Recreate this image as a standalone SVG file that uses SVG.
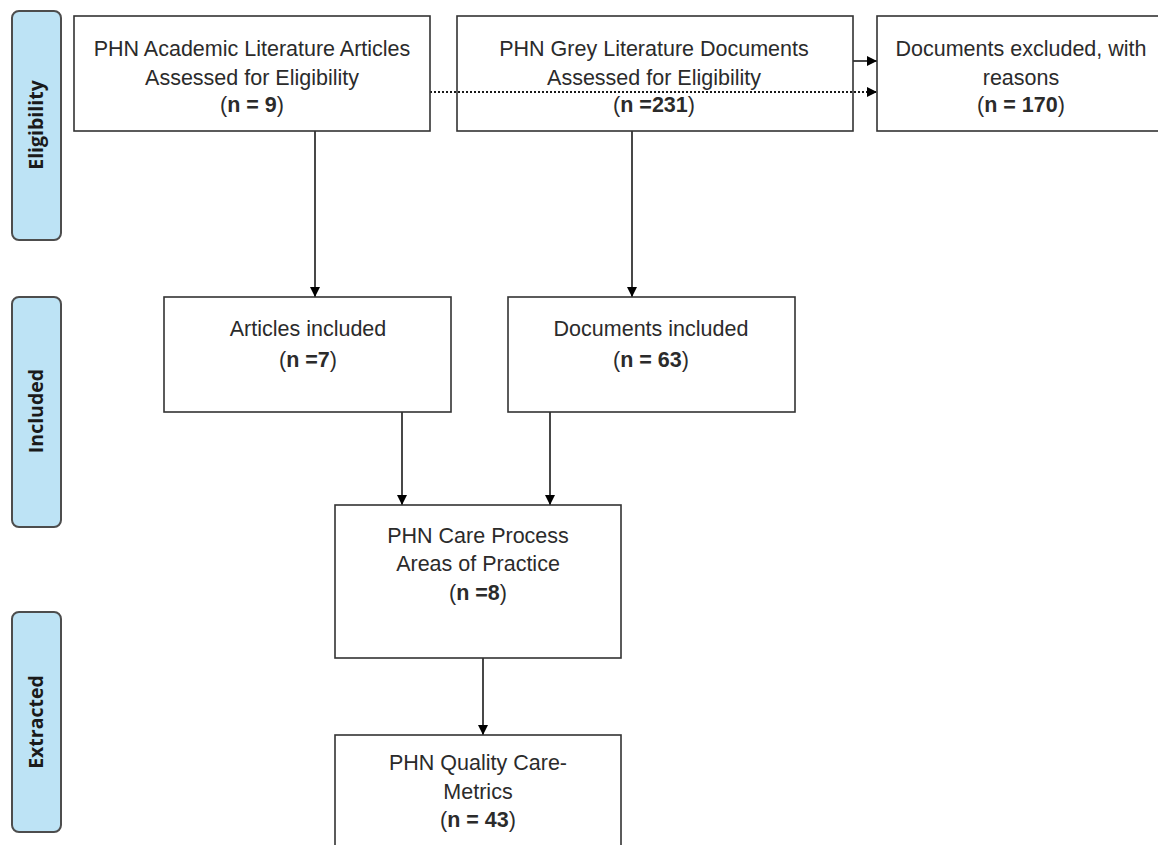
<svg xmlns="http://www.w3.org/2000/svg" width="1158" height="845" viewBox="0 0 1158 845">
  <style>
    .stage { fill: #bde3f5; stroke: #4d4d4d; stroke-width: 2; }
    .stage-text { font-family: "Open Sans", "Liberation Sans", sans-serif; font-size: 19.5px; font-weight: bold; fill: #1a1a1a; text-anchor: middle; }
    .box { fill: #ffffff; stroke: #333333; stroke-width: 1.6; }
    .label { font-family: "Liberation Sans", Arial, sans-serif; font-size: 21.5px; fill: #2b2b2b; text-anchor: middle; }
    .bold { font-weight: bold; }
    .conn { fill: none; stroke: #1a1a1a; stroke-width: 1.6; }
    .dotted { stroke-dasharray: 2 2; stroke-width: 2.2; }
  </style>
  <defs>
    <marker id="arrow" viewBox="0 0 10 10" refX="10" refY="5" markerWidth="10" markerHeight="10" markerUnits="userSpaceOnUse" orient="auto">
      <path d="M0,0 L10,5 L0,10 Z" fill="#000000"/>
    </marker>
  </defs>

  <rect width="1158" height="845" fill="#ffffff"/>

  <!-- stage labels -->
  <g id="stage-eligibility">
    <rect class="stage" x="12" y="11" width="49" height="229" rx="7"/>
    <text class="stage-text" transform="translate(43,125) rotate(-90)">Eligibility</text>
  </g>
  <g id="stage-included">
    <rect class="stage" x="12" y="297" width="49" height="230" rx="7"/>
    <text class="stage-text" transform="translate(43,411) rotate(-90)">Included</text>
  </g>
  <g id="stage-extracted">
    <rect class="stage" x="12" y="612" width="49" height="220" rx="7"/>
    <text class="stage-text" transform="translate(43,722) rotate(-90)">Extracted</text>
  </g>

  <!-- connectors -->
  <g id="connectors">
    <line class="conn" x1="853" y1="61" x2="877" y2="61" marker-end="url(#arrow)"/>
    <line class="conn dotted" x1="430" y1="92" x2="877" y2="92" marker-end="url(#arrow)"/>
    <line class="conn" x1="315" y1="131" x2="315" y2="297" marker-end="url(#arrow)"/>
    <line class="conn" x1="632" y1="131" x2="632" y2="297" marker-end="url(#arrow)"/>
    <line class="conn" x1="402" y1="412" x2="402" y2="505" marker-end="url(#arrow)"/>
    <line class="conn" x1="550" y1="412" x2="550" y2="505" marker-end="url(#arrow)"/>
    <line class="conn" x1="483" y1="658" x2="483" y2="735" marker-end="url(#arrow)"/>
  </g>

  <!-- nodes -->
  <g id="academic-assessed">
    <rect class="box" x="74" y="16" width="356" height="115"/>
    <text class="label" x="252" y="56">PHN Academic Literature Articles</text>
    <text class="label" x="252" y="85">Assessed for Eligibility</text>
    <text class="label" x="252" y="112">(<tspan class="bold">n = 9</tspan>)</text>
  </g>
  <g id="grey-assessed">
    <rect class="box" x="457" y="16" width="396" height="115" fill-opacity="0"/>
    <text class="label" x="654" y="56">PHN Grey Literature Documents</text>
    <text class="label" x="654" y="85">Assessed for Eligibility</text>
    <text class="label" x="654" y="112">(<tspan class="bold">n =231</tspan>)</text>
  </g>
  <g id="documents-excluded">
    <rect class="box" x="877" y="16" width="290" height="115"/>
    <text class="label" x="1021" y="56">Documents excluded, with</text>
    <text class="label" x="1021" y="85">reasons</text>
    <text class="label" x="1021" y="112">(<tspan class="bold">n = 170</tspan>)</text>
  </g>
  <g id="articles-included">
    <rect class="box" x="164" y="297" width="287" height="115"/>
    <text class="label" x="308" y="336">Articles included</text>
    <text class="label" x="308" y="367">(<tspan class="bold">n =7</tspan>)</text>
  </g>
  <g id="documents-included">
    <rect class="box" x="508" y="297" width="287" height="115"/>
    <text class="label" x="651" y="336">Documents included</text>
    <text class="label" x="651" y="367">(<tspan class="bold">n = 63</tspan>)</text>
  </g>
  <g id="care-process">
    <rect class="box" x="335" y="505" width="286" height="153"/>
    <text class="label" x="478" y="543">PHN Care Process</text>
    <text class="label" x="478" y="571">Areas of Practice</text>
    <text class="label" x="478" y="600">(<tspan class="bold">n =8</tspan>)</text>
  </g>
  <g id="quality-metrics">
    <rect class="box" x="335" y="735" width="286" height="130"/>
    <text class="label" x="478" y="770">PHN Quality Care-</text>
    <text class="label" x="478" y="799">Metrics</text>
    <text class="label" x="478" y="827">(<tspan class="bold">n = 43</tspan>)</text>
  </g>
</svg>
